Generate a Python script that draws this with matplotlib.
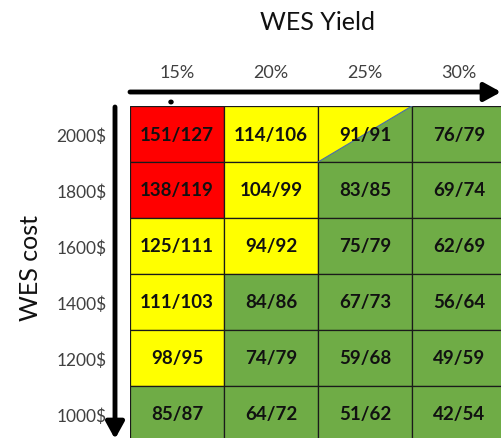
import numpy as np
import matplotlib
matplotlib.use("Agg")
import matplotlib.pyplot as plt
from matplotlib.patches import Rectangle, Polygon, FancyArrowPatch, Circle

# data
yields = ["15%", "20%", "25%", "30%"]
costs = ["2000$", "1800$", "1600$", "1400$", "1200$", "1000$"]
values = [
    ["151/127", "114/106", "91/91", "76/79"],
    ["138/119", "104/99", "83/85", "69/74"],
    ["125/111", "94/92", "75/79", "62/69"],
    ["111/103", "84/86", "67/73", "56/64"],
    ["98/95", "74/79", "59/68", "49/59"],
    ["85/87", "64/72", "51/62", "42/54"],
]
# R = red, Y = yellow, G = green, S = split yellow/green
zones = [
    "RYSG",
    "RYGG",
    "YYGG",
    "YGGG",
    "YGGG",
    "GGGG",
]

colors = {"R": "#FF0000", "Y": "#FFFF00", "G": "#6FAC46"}

W, H = 501, 439
fig = plt.figure(figsize=(W / 100, H / 100), dpi=100)

# grid axes: cells 94 x 56 px, top-left at (130, 107)
cw, ch = 94, 56
left, top = 130, 107
ax = fig.add_axes([left / W, 0, (W - left) / W, (H - top) / H])
ax.set_xlim(0, (W - left) / cw)
ax.set_ylim((H - top) / ch, 0)

for r, row in enumerate(zones):
    for c, z in enumerate(row):
        if z == "S":
            ax.add_patch(Polygon([(c, r), (c + 1, r), (c, r + 1)], closed=True,
                                 facecolor=colors["Y"], edgecolor="none"))
            ax.add_patch(Polygon([(c + 1, r), (c + 1, r + 1), (c, r + 1)], closed=True,
                                 facecolor=colors["G"], edgecolor="none"))
            ax.plot([c, c + 1], [r + 1, r], color="#4a6fa5", lw=0.8)
            ax.add_patch(Rectangle((c, r), 1, 1, facecolor="none",
                                   edgecolor="#1a1a1a", lw=0.9))
        else:
            ax.add_patch(Rectangle((c, r), 1, 1, facecolor=colors[z],
                                   edgecolor="#1a1a1a", lw=0.9))
        ax.text(c + 0.5, r + 0.5, values[r][c], ha="center", va="center",
                fontsize=13.5, fontweight="bold", family="Lato", color="#111111")

ax.set_xticks(np.arange(len(yields)) + 0.5)
ax.set_xticklabels(yields, fontsize=13, color="#404040", family="Lato")
ax.xaxis.tick_top()
ax.tick_params(axis="x", length=0, pad=19)
ax.set_yticks(np.arange(len(costs)) + 0.5)
ax.set_yticklabels(costs, fontsize=12.5, color="#404040", family="Lato")
ax.tick_params(axis="y", length=0, pad=17)
for s in ax.spines.values():
    s.set_visible(False)


def fp(x, y):
    return (x / W, 1 - y / H)


# arrows
for a, b in [(fp(130, 93), fp(501, 93)), (fp(115, 108), fp(115, 440))]:
    fig.add_artist(FancyArrowPatch(
        a, b, transform=fig.transFigure,
        arrowstyle="-|>,head_length=10,head_width=5.5", lw=3.5, color="black",
        mutation_scale=1, shrinkA=0, shrinkB=0))

# small dot below top arrow
fig.add_artist(Circle(fp(171, 103), 2 / W, transform=fig.transFigure, color="black"))

fig.text(*fp(318, 22), "WES Yield", ha="center", va="center",
         fontsize=18, family="Lato", color="#111111")
fig.text(*fp(30, 268), "WES cost", ha="center", va="center", rotation=90,
         fontsize=18, family="Lato", color="#111111")

fig.savefig("out.png", dpi=100)
